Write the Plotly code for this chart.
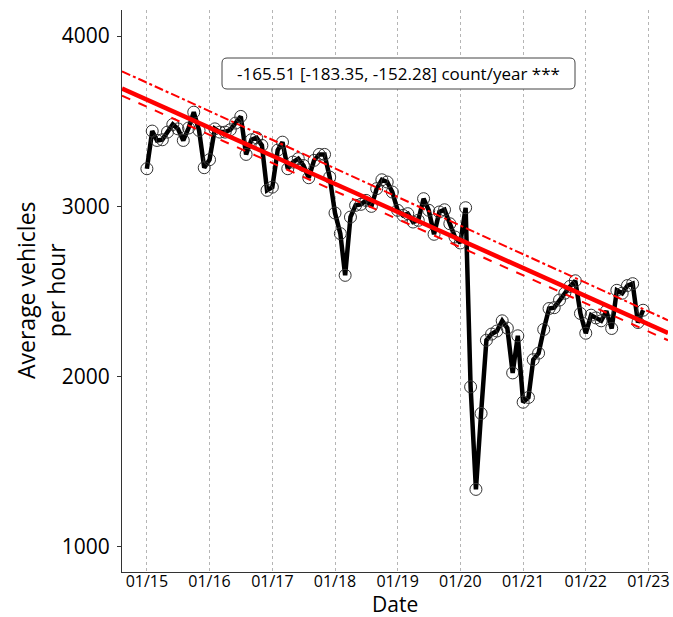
import plotly.graph_objects as go
import pandas as pd

# ---- data ----
months = pd.date_range("2015-01-01", "2022-12-01", freq="MS")
vehicles = [
    3221, 3442, 3387, 3391, 3436, 3481, 3455, 3387, 3460, 3553, 3446, 3227,  # 2015
    3274, 3455, 3436, 3436, 3450, 3489, 3528, 3305, 3391, 3403, 3358, 3094,  # 2016
    3113, 3330, 3377, 3221, 3260, 3280, 3240, 3168, 3270, 3305, 3305, 3172,  # 2017
    2961, 2840, 2595, 2937, 3006, 3012, 3035, 3000, 3104, 3156, 3143, 3084,  # 2018
    2977, 2947, 2957, 2908, 2918, 3045, 2977, 2836, 2967, 2980, 2898, 2820,  # 2019
    2785, 2992, 1940, 1338, 1784, 2214, 2250, 2268, 2328, 2285, 2022, 2240,  # 2020
    1850, 1878, 2100, 2138, 2277, 2400, 2405, 2450, 2490, 2530, 2563, 2371,  # 2021
    2255, 2361, 2345, 2328, 2385, 2283, 2507, 2490, 2535, 2546, 2318, 2390,  # 2022
]

x_range = ["2014-08-09", "2023-04-25"]
line_dates = ["2014-08-09", "2023-04-25"]
trend_fit = [3692, 2257]
trend_upper = [3793, 2331]
trend_lower = [3650, 2214]

x_tickvals = ["2015-01-01", "2016-01-01", "2017-01-01", "2018-01-01", "2019-01-01",
              "2020-01-01", "2021-01-01", "2022-01-01", "2023-01-01"]
x_ticktext = ["01/15", "01/16", "01/17", "01/18", "01/19", "01/20", "01/21", "01/22", "01/23"]
y_tickvals = [1000, 2000, 3000, 4000]
y_range = [853, 4153]

slope_label = "-165.51 [-183.35, -152.28] count/year ***"
x_title = "Date"
y_title = "Average vehicles<br>per hour"

FONT = "Open Sans"
W, H = 673, 617
ML, MR, MT, MB = 122, 5, 10, 45
PW, PH = W - ML - MR, H - MT - MB


def px_x(px):
    return (px - ML) / PW


def px_y(py):
    return (H - MB - py) / PH


fig = go.Figure()
fig.add_trace(go.Scatter(
    x=months, y=vehicles, mode="lines+markers",
    line=dict(color="black", width=4.5),
    marker=dict(symbol="circle-open", size=12, color="#333333", line=dict(width=1)),
    showlegend=False, hoverinfo="skip"))
fig.add_trace(go.Scatter(
    x=line_dates, y=trend_upper, mode="lines",
    line=dict(color="#ff0000", width=2, dash="dashdot"), showlegend=False))
fig.add_trace(go.Scatter(
    x=line_dates, y=trend_lower, mode="lines",
    line=dict(color="#ff0000", width=2, dash="dash"), showlegend=False))
fig.add_trace(go.Scatter(
    x=line_dates, y=trend_fit, mode="lines",
    line=dict(color="#ff0000", width=4.5), showlegend=False))

# rounded label box
bx0, bx1, by0, by1 = px_x(222), px_x(575), px_y(89), px_y(58)
rx, ry = 5 / PW, 5 / PH
path = (f"M {bx0+rx},{by0} L {bx1-rx},{by0} Q {bx1},{by0} {bx1},{by0+ry} "
        f"L {bx1},{by1-ry} Q {bx1},{by1} {bx1-rx},{by1} "
        f"L {bx0+rx},{by1} Q {bx0},{by1} {bx0},{by1-ry} "
        f"L {bx0},{by0+ry} Q {bx0},{by0} {bx0+rx},{by0} Z")
fig.add_shape(type="path", path=path, xref="paper", yref="paper",
              line=dict(color="#444444", width=1), fillcolor="white", layer="above")
fig.add_annotation(
    x=(bx0 + bx1) / 2, y=(by0 + by1) / 2, xref="paper", yref="paper",
    text=slope_label, showarrow=False, xanchor="center", yanchor="middle",
    font=dict(family=FONT, size=17, color="black"))

# axis titles
fig.add_annotation(x=px_x(395), y=px_y(604), xref="paper", yref="paper", text=x_title,
                   showarrow=False, xanchor="center", yanchor="middle",
                   font=dict(family=FONT, size=21, color="black"))
fig.add_annotation(x=px_x(41), y=px_y(290), xref="paper", yref="paper", text=y_title,
                   showarrow=False, xanchor="center", yanchor="middle", textangle=-90,
                   font=dict(family=FONT, size=23, color="black"))

fig.update_layout(
    width=W, height=H,
    margin=dict(l=ML, r=MR, t=MT, b=MB, autoexpand=False),
    plot_bgcolor="white", paper_bgcolor="white",
    font=dict(family=FONT, color="black"),
    xaxis=dict(
        type="date", range=x_range, automargin=False,
        tickvals=x_tickvals, ticktext=x_ticktext,
        tickfont=dict(size=16, color="black"),
        showgrid=True, gridcolor="#b5b5b5", gridwidth=1, griddash="dot",
        showline=True, linecolor="#333333", linewidth=1,
        ticks="", ticklabelstandoff=-5,
        zeroline=False),
    yaxis=dict(
        range=y_range, tickvals=y_tickvals, automargin=False,
        tickfont=dict(size=21, color="black"),
        showgrid=False,
        showline=True, linecolor="#333333", linewidth=1,
        ticks="outside", ticklen=4, tickcolor="#333333", ticklabelstandoff=3,
        zeroline=False),
)

fig.write_html("out.html",
               config={"displayModeBar": False},
               post_script="document.body.style.margin='0px';document.body.style.overflow='hidden';")
